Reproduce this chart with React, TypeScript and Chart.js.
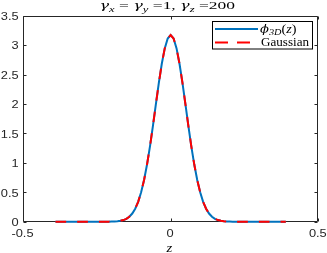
import React, { useEffect, useRef } from "react";
import { Chart, registerables } from "chart.js";

Chart.register(...registerables);

const zValues = [
  -0.39, -0.38, -0.37, -0.36, -0.35, -0.34, -0.33, -0.32, -0.31, -0.3,
  -0.29, -0.28, -0.27, -0.26, -0.25, -0.24, -0.23, -0.22, -0.21, -0.2,
  -0.19, -0.18, -0.17, -0.16, -0.15, -0.14, -0.13, -0.12, -0.11, -0.1,
  -0.09, -0.08, -0.07, -0.06, -0.05, -0.04, -0.03, -0.02, -0.01, 0,
  0.01, 0.02, 0.03, 0.04, 0.05, 0.06, 0.07, 0.08, 0.09, 0.1,
  0.11, 0.12, 0.13, 0.14, 0.15, 0.16, 0.17, 0.18, 0.19, 0.2,
  0.21, 0.22, 0.23, 0.24, 0.25, 0.26, 0.27, 0.28, 0.29, 0.3,
  0.31, 0.32, 0.33, 0.34, 0.35, 0.36, 0.37, 0.38, 0.39,
];

const phi3DValues = [
  0, 0, 0, 0, 0, 0, 0, 0, 0, 0,
  0, 0, 0, 0, 0, 0, 0, 0, 0.001, 0.002,
  0.004, 0.008, 0.015, 0.028, 0.049, 0.085, 0.139, 0.221, 0.338, 0.499,
  0.709, 0.971, 1.281, 1.629, 1.997, 2.358, 2.684, 2.944, 3.112, 3.17,
  3.112, 2.944, 2.684, 2.358, 1.997, 1.629, 1.281, 0.971, 0.709, 0.499,
  0.338, 0.221, 0.139, 0.085, 0.049, 0.028, 0.015, 0.008, 0.004, 0.002,
  0.001, 0, 0, 0, 0, 0, 0, 0, 0, 0,
  0, 0, 0, 0, 0, 0, 0, 0, 0,
];

const gaussianValues = [
  0, 0, 0, 0, 0, 0, 0, 0, 0, 0,
  0, 0, 0, 0, 0, 0, 0, 0, 0.001, 0.002,
  0.004, 0.008, 0.015, 0.028, 0.049, 0.085, 0.139, 0.221, 0.338, 0.499,
  0.709, 0.971, 1.281, 1.629, 1.997, 2.358, 2.684, 2.944, 3.112, 3.17,
  3.112, 2.944, 2.684, 2.358, 1.997, 1.629, 1.281, 0.971, 0.709, 0.499,
  0.338, 0.221, 0.139, 0.085, 0.049, 0.028, 0.015, 0.008, 0.004, 0.002,
  0.001, 0, 0, 0, 0, 0, 0, 0, 0, 0,
  0, 0, 0, 0, 0, 0, 0, 0, 0,
];

const xTicks = [-0.5, 0, 0.5];
const yTicks = [0, 0.5, 1, 1.5, 2, 2.5, 3, 3.5];
const xTickLabels = ["-0.5", "0", "0.5"];
const yTickLabels = ["0", "0.5", "1", "1.5", "2", "2.5", "3", "3.5"];
const seriesNames = ["phi3D", "Gaussian"];

const BLUE = "#0072BD";
const RED = "#FF0000";
const AXIS = "#262626";
const SERIF = "'Liberation Serif', 'Times New Roman', serif";
const GREEK = "'DejaVu Serif', serif";
const SANS = "'Liberation Sans', Arial, sans-serif";

type Seg = { t: string; i?: boolean; sub?: boolean; f?: string; s?: number };

function drawRich(
  ctx: CanvasRenderingContext2D,
  segs: Seg[],
  x: number,
  y: number,
  size: number,
  opts: { align?: "left" | "center" | "right"; width?: number; sx?: number; family?: string }
) {
  const family = opts.family || SERIF;
  const subSize = size * 0.72;
  const fontOf = (s: Seg) =>
    `${s.i ? "italic " : ""}${(s.sub ? subSize : size) * (s.s || 1)}px ${s.f || family}`;
  let total = 0;
  const widths = segs.map((s) => {
    ctx.font = fontOf(s);
    const w = ctx.measureText(s.t).width;
    total += w;
    return w;
  });
  const sx = opts.width ? opts.width / total : opts.sx || 1;
  const full = total * sx;
  const align = opts.align || "left";
  const x0 = align === "center" ? x - full / 2 : align === "right" ? x - full : x;
  ctx.save();
  ctx.translate(x0, y);
  ctx.scale(sx, 1);
  ctx.textAlign = "left";
  ctx.textBaseline = "alphabetic";
  let cx = 0;
  segs.forEach((s, k) => {
    ctx.font = fontOf(s);
    ctx.fillText(s.t, cx, s.sub ? size * 0.25 : 0);
    cx += widths[k];
  });
  ctx.restore();
}

const matlabPlugin = {
  id: "matlabDecor",
  beforeDatasetsDraw(chart: any) {
    const { ctx, chartArea: a, scales } = chart;
    const x = scales.x;
    const y = scales.y;
    ctx.save();
    ctx.strokeStyle = AXIS;
    ctx.lineWidth = 1;
    const L = Math.round(a.left) + 0.5;
    const R = Math.round(a.right) - 0.5;
    const T = Math.round(a.top) + 0.5;
    const B = Math.round(a.bottom) - 0.5;
    ctx.beginPath();
    ctx.rect(L, T, R - L, B - T);
    const tl = 3;
    xTicks.forEach((v) => {
      const px = Math.round(x.getPixelForValue(v)) + 0.5;
      ctx.moveTo(px, B);
      ctx.lineTo(px, B - tl);
      ctx.moveTo(px, T);
      ctx.lineTo(px, T + tl);
    });
    yTicks.forEach((v) => {
      const py = Math.round(y.getPixelForValue(v)) + 0.5;
      ctx.moveTo(L, py);
      ctx.lineTo(L + tl, py);
      ctx.moveTo(R, py);
      ctx.lineTo(R - tl, py);
    });
    ctx.stroke();
    ctx.restore();
  },
  afterDraw(chart: any) {
    const { ctx, chartArea: a, scales } = chart;
    const x = scales.x;
    const y = scales.y;
    ctx.save();

    // tick labels
    ctx.fillStyle = AXIS;
    xTicks.forEach((v, k) => {
      drawRich(ctx, [{ t: xTickLabels[k] }], x.getPixelForValue(v) - 0.5, a.bottom + 15.6, 10.7, {
        align: "center",
        sx: 1.2,
        family: SANS,
      });
    });
    yTicks.forEach((v, k) => {
      drawRich(ctx, [{ t: yTickLabels[k] }], 18.6, y.getPixelForValue(v) + 4.3, 10.7, {
        align: "right",
        sx: 1.2,
        family: SANS,
      });
    });

    ctx.fillStyle = "#000";
    // title
    drawRich(
      ctx,
      [
        { t: "γ", i: true, f: GREEK, s: 0.92 },
        { t: "x", i: true, sub: true },
        { t: " = " },
        { t: "γ", i: true, f: GREEK, s: 0.92 },
        { t: "y", i: true, sub: true },
        { t: " =1, " },
        { t: "γ", i: true, f: GREEK, s: 0.92 },
        { t: "z", i: true, sub: true },
        { t: " =200" },
      ],
      99.5,
      9.3,
      11,
      { align: "left", width: 135.5 }
    );
    // x label
    drawRich(ctx, [{ t: "z", i: true }], 169.5, 251.6, 13.5, { align: "center", sx: 1.1 });

    // legend
    const bx = 212.5, by = 21.5, bw = 100, bh = 27.5;
    ctx.fillStyle = "#fff";
    ctx.fillRect(bx, by, bw, bh);
    ctx.strokeStyle = "#000";
    ctx.lineWidth = 1;
    ctx.strokeRect(bx, by, bw, bh);
    const r1 = 29, r2 = 42.5;
    ctx.lineWidth = 2;
    ctx.strokeStyle = BLUE;
    ctx.beginPath();
    ctx.moveTo(215, r1);
    ctx.lineTo(258, r1);
    ctx.stroke();
    ctx.strokeStyle = RED;
    ctx.beginPath();
    ctx.moveTo(215, r2);
    ctx.lineTo(228, r2);
    ctx.moveTo(237, r2);
    ctx.lineTo(250, r2);
    ctx.stroke();
    ctx.fillStyle = "#000";
    drawRich(
      ctx,
      [
        { t: "ϕ", i: true, f: GREEK, s: 0.92 },
        { t: "3D", i: true, sub: true },
        { t: "(" },
        { t: "z", i: true },
        { t: ")" },
      ],
      260,
      32.6,
      11.5,
      { align: "left", width: 36.5 }
    );
    drawRich(ctx, [{ t: "Gaussian" }], 261, 46.2, 11.5, { align: "left", width: 48 });
    ctx.restore();
  },
};

export default function App() {
  const ref = useRef<HTMLCanvasElement | null>(null);
  useEffect(() => {
    if (!ref.current) return;
    const chart = new Chart(ref.current, {
      type: "line",
      data: {
        datasets: [
          {
            label: seriesNames[0],
            data: zValues.map((z, i) => ({ x: z, y: phi3DValues[i] })),
            borderColor: BLUE,
            borderWidth: 2,
            pointRadius: 0,
            fill: false,
            tension: 0,
            order: 2,
            clip: 6,
          },
          {
            label: seriesNames[1],
            data: zValues.map((z, i) => ({ x: z, y: gaussianValues[i] })),
            borderColor: RED,
            borderWidth: 2,
            borderDash: [10.7, 11],
            pointRadius: 0,
            fill: false,
            tension: 0,
            order: 1,
            clip: 6,
          },
        ],
      },
      options: {
        animation: false,
        responsive: false,
        devicePixelRatio: 1,
        layout: { padding: { left: 0, top: 15.7, right: 8.7, bottom: 0 } },
        plugins: { legend: { display: false }, title: { display: false }, tooltip: { enabled: false } },
        scales: {
          x: {
            type: "linear",
            min: -0.5,
            max: 0.5,
            afterFit: (s: any) => {
              s.height = 31.3;
            },
            grid: { display: false, drawTicks: false },
            border: { display: false },
            ticks: { display: false },
          },
          y: {
            type: "linear",
            min: 0,
            max: 3.5,
            afterFit: (s: any) => {
              s.width = 23;
            },
            grid: { display: false, drawTicks: false },
            border: { display: false },
            ticks: { display: false },
          },
        },
      },
      plugins: [matlabPlugin],
    });
    return () => chart.destroy();
  }, []);
  return (
    <div style={{ position: "absolute", left: 0, top: 0, width: 327, height: 253, background: "#fff" }}>
      <canvas ref={ref} width={327} height={253} style={{ display: "block" }} />
    </div>
  );
}
